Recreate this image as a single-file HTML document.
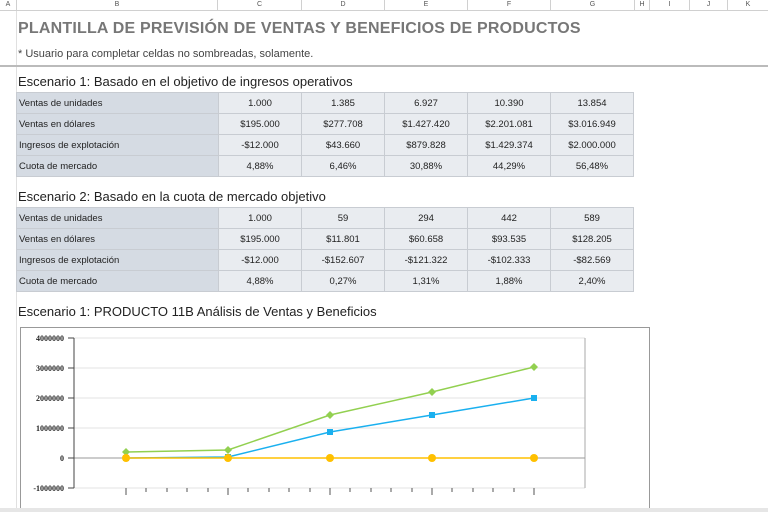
<!DOCTYPE html>
<html><head><meta charset="utf-8"><style>
body{margin:0;width:768px;height:512px;overflow:hidden;background:#fff;font-family:"Liberation Sans",sans-serif;position:relative}
.a{position:absolute}
.hdr{top:0;left:0;width:768px;height:10px;background:#fff;border-bottom:1px solid #d0d0d0}
.hc{position:absolute;top:0;height:10px;border-right:1px solid #d0d0d0;font-size:7px;color:#555;text-align:center;line-height:10px}
table{position:absolute;left:16px;border-collapse:collapse;font-size:9.5px;color:#222}
td{height:20px;border:1px solid #c8ccd2;padding:0;background:#e9ecf0;text-align:center;width:82px}
td.l{background:#d5dbe3;text-align:left;padding-left:2px;width:199px}
.sec{font-size:13px;color:#222;left:18px}
</style></head><body>
<div class="a hdr">
<div class="hc" style="left:0;width:16px">A</div>
<div class="hc" style="left:17px;width:200px">B</div>
<div class="hc" style="left:218px;width:83px">C</div>
<div class="hc" style="left:302px;width:82px">D</div>
<div class="hc" style="left:385px;width:82px">E</div>
<div class="hc" style="left:468px;width:82px">F</div>
<div class="hc" style="left:551px;width:83px">G</div>
<div class="hc" style="left:635px;width:14px">H</div>
<div class="hc" style="left:650px;width:39px">I</div>
<div class="hc" style="left:690px;width:37px">J</div>
<div class="hc" style="left:728px;width:40px">K</div>
</div>
<div class="a" style="left:0;top:11px;width:16px;height:501px;border-right:1px solid #e0e0e0"></div>
<div class="a" style="left:18px;top:20px;font-size:16px;font-weight:bold;color:#777;letter-spacing:0.2px">PLANTILLA DE PREVISIÓN DE VENTAS Y BENEFICIOS DE PRODUCTOS</div>
<div class="a" style="left:18px;top:48px;font-size:11px;color:#444">* Usuario para completar celdas no sombreadas, solamente.</div>
<div class="a" style="left:0;top:65px;width:768px;height:2px;background:#bbb"></div>
<div class="a sec" style="top:74px">Escenario 1: Basado en el objetivo de ingresos operativos</div>
<table style="top:92px">
<tr><td class="l">Ventas de unidades</td><td>1.000</td><td>1.385</td><td>6.927</td><td>10.390</td><td>13.854</td></tr>
<tr><td class="l">Ventas en dólares</td><td>$195.000</td><td>$277.708</td><td>$1.427.420</td><td>$2.201.081</td><td>$3.016.949</td></tr>
<tr><td class="l">Ingresos de explotación</td><td>-$12.000</td><td>$43.660</td><td>$879.828</td><td>$1.429.374</td><td>$2.000.000</td></tr>
<tr><td class="l">Cuota de mercado</td><td>4,88%</td><td>6,46%</td><td>30,88%</td><td>44,29%</td><td>56,48%</td></tr>
</table>
<div class="a sec" style="top:189px">Escenario 2: Basado en la cuota de mercado objetivo</div>
<table style="top:207px">
<tr><td class="l">Ventas de unidades</td><td>1.000</td><td>59</td><td>294</td><td>442</td><td>589</td></tr>
<tr><td class="l">Ventas en dólares</td><td>$195.000</td><td>$11.801</td><td>$60.658</td><td>$93.535</td><td>$128.205</td></tr>
<tr><td class="l">Ingresos de explotación</td><td>-$12.000</td><td>-$152.607</td><td>-$121.322</td><td>-$102.333</td><td>-$82.569</td></tr>
<tr><td class="l">Cuota de mercado</td><td>4,88%</td><td>0,27%</td><td>1,31%</td><td>1,88%</td><td>2,40%</td></tr>
</table>
<div class="a sec" style="top:304px">Escenario 1: PRODUCTO 11B Análisis de Ventas y Beneficios</div>
<svg class="a" style="left:0;top:0" width="768" height="512">
<rect x="20.5" y="327.5" width="629" height="190" fill="#fff" stroke="#999"/>
<g stroke="#e3e3e3"><line x1="74" x2="585" y1="338" y2="338"/><line x1="74" x2="585" y1="368" y2="368"/><line x1="74" x2="585" y1="398" y2="398"/><line x1="74" x2="585" y1="428" y2="428"/><line x1="74" x2="585" y1="488" y2="488"/></g>
<line x1="585" x2="585" y1="338" y2="488" stroke="#aaa"/>
<line x1="74" x2="585" y1="458" y2="458" stroke="#999"/>
<line x1="74" x2="74" y1="338" y2="488" stroke="#444"/>
<g stroke="#444"><line x1="68" x2="74" y1="338" y2="338"/><line x1="68" x2="74" y1="368" y2="368"/><line x1="68" x2="74" y1="398" y2="398"/><line x1="68" x2="74" y1="428" y2="428"/><line x1="68" x2="74" y1="458" y2="458"/><line x1="68" x2="74" y1="488" y2="488"/></g>
<g stroke="#555">
<line x1="126" x2="126" y1="488" y2="495"/><line x1="228" x2="228" y1="488" y2="495"/><line x1="330" x2="330" y1="488" y2="495"/><line x1="432" x2="432" y1="488" y2="495"/><line x1="534" x2="534" y1="488" y2="495"/>
<line x1="146" x2="146" y1="488" y2="492"/><line x1="167" x2="167" y1="488" y2="492"/><line x1="187" x2="187" y1="488" y2="492"/><line x1="208" x2="208" y1="488" y2="492"/>
<line x1="248" x2="248" y1="488" y2="492"/><line x1="269" x2="269" y1="488" y2="492"/><line x1="289" x2="289" y1="488" y2="492"/><line x1="310" x2="310" y1="488" y2="492"/>
<line x1="350" x2="350" y1="488" y2="492"/><line x1="371" x2="371" y1="488" y2="492"/><line x1="391" x2="391" y1="488" y2="492"/><line x1="412" x2="412" y1="488" y2="492"/>
<line x1="452" x2="452" y1="488" y2="492"/><line x1="473" x2="473" y1="488" y2="492"/><line x1="493" x2="493" y1="488" y2="492"/><line x1="514" x2="514" y1="488" y2="492"/>
</g>
<g font-family="Liberation Serif,serif" font-size="8" font-weight="bold" text-anchor="end" fill="#222">
<text x="64" y="341">4000000</text><text x="64" y="371">3000000</text><text x="64" y="401">2000000</text><text x="64" y="431">1000000</text><text x="64" y="461">0</text><text x="64" y="491">-1000000</text></g>
<polyline points="126,452 228,450 330,415 432,392 534,367" fill="none" stroke="#92d050" stroke-width="1.5"/>
<g fill="#92d050"><path d="M126,448 l4,4 -4,4 -4,-4z"/><path d="M228,446 l4,4 -4,4 -4,-4z"/><path d="M330,411 l4,4 -4,4 -4,-4z"/><path d="M432,388 l4,4 -4,4 -4,-4z"/><path d="M534,363 l4,4 -4,4 -4,-4z"/></g>
<polyline points="126,458 228,457 330,432 432,415 534,398" fill="none" stroke="#1ab0ef" stroke-width="1.5"/>
<g fill="#1ab0ef"><rect x="123" y="455" width="6" height="6"/><rect x="225" y="454" width="6" height="6"/><rect x="327" y="429" width="6" height="6"/><rect x="429" y="412" width="6" height="6"/><rect x="531" y="395" width="6" height="6"/></g>
<line x1="126" x2="534" y1="458" y2="458" stroke="#ffc000" stroke-width="1.5"/>
<g fill="#ffc000"><circle cx="126" cy="458" r="4"/><circle cx="228" cy="458" r="4"/><circle cx="330" cy="458" r="4"/><circle cx="432" cy="458" r="4"/><circle cx="534" cy="458" r="4"/></g>
<rect x="0" y="508" width="768" height="4" fill="#e6e6e6"/>
</svg>
</body></html>
